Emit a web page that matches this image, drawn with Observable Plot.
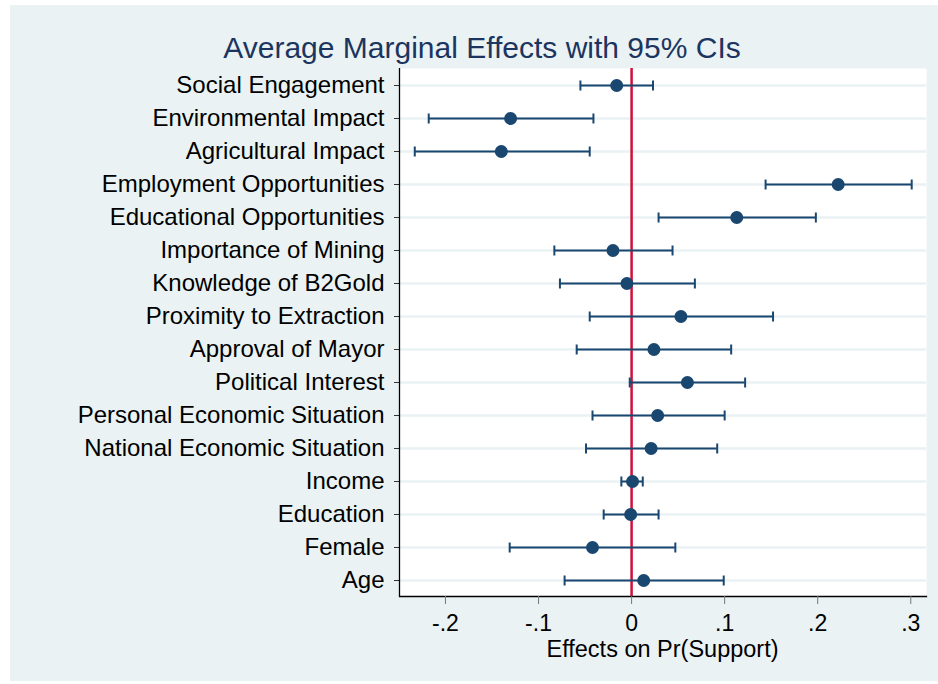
<!DOCTYPE html>
<html><head><meta charset="utf-8">
<script src="https://cdn.jsdelivr.net/npm/d3@7"></script>
<script src="https://cdn.jsdelivr.net/npm/@observablehq/plot@0.6"></script>
<style>
html,body{margin:0;padding:0;background:#fff;}
#wrap{position:relative;width:938px;height:684px;overflow:hidden;}
#bg{position:absolute;left:10px;top:5px;width:928px;height:676px;background:#eaf2f3;}
#chart{position:absolute;left:0;top:0;}
.txt{position:absolute;font-family:'Liberation Sans',Arial,sans-serif;white-space:nowrap;text-align:center;}
#title{left:82px;width:800px;top:33px;font-size:30px;line-height:30px;color:#1c3560;}
#xlab{left:399px;width:527px;top:637.8px;font-size:23.5px;line-height:23px;color:#000;}
</style></head><body>
<div id="wrap"><div id="bg"></div><div id="chart"></div>
<div id="title" class="txt"></div><div id="xlab" class="txt"></div></div>
<script>
const categories = ["Social Engagement","Environmental Impact","Agricultural Impact","Employment Opportunities","Educational Opportunities","Importance of Mining","Knowledge of B2Gold","Proximity to Extraction","Approval of Mayor","Political Interest","Personal Economic Situation","National Economic Situation","Income","Education","Female","Age"];
const estimates = [-0.016,-0.130,-0.140,0.222,0.113,-0.020,-0.005,0.053,0.024,0.060,0.028,0.021,0.001,-0.001,-0.042,0.013];
const lower = [-0.055,-0.218,-0.233,0.144,0.029,-0.083,-0.077,-0.045,-0.059,-0.002,-0.042,-0.049,-0.011,-0.030,-0.131,-0.072];
const upper = [0.023,-0.041,-0.045,0.301,0.198,0.044,0.068,0.152,0.107,0.122,0.100,0.092,0.012,0.029,0.047,0.099];
const xTicks = [-0.2,-0.1,0,0.1,0.2,0.3];
const xTickLabels = ["-.2","-.1","0",".1",".2",".3"];
const xDomain = [-0.2494,0.3169];
const titleText = "Average Marginal Effects with 95% CIs";
const xLabelText = "Effects on Pr(Support)";

const data = categories.map((c,i)=>({term:c, est:estimates[i], lo:lower[i], hi:upper[i]}));
const navy = "#1a476f";
const red = "#d0103a";
const font = "'Liberation Sans', Arial, sans-serif";
const capSymbol = {draw(context) { context.moveTo(0, -5); context.lineTo(0, 5); }};

const chart = Plot.plot({
  width: 938, height: 684,
  marginLeft: 399, marginRight: 12, marginTop: 68, marginBottom: 88,
  style: {background: "transparent", fontFamily: font, fontSize: "24px", color: "#000", overflow: "visible"},
  x: {domain: xDomain},
  y: {type: "point", domain: categories, padding: 0.46},
  marks: [
    Plot.frame({fill: "white", stroke: "none"}),
    Plot.ruleY(data, {y: "term", stroke: "#eaf2f3", strokeWidth: 2.5}),
    Plot.ruleX([0], {stroke: red, strokeWidth: 2.5}),
    Plot.ruleY(data, {y: "term", x1: "lo", x2: "hi", stroke: navy, strokeWidth: 2}),
    Plot.dot(data, {x: "lo", y: "term", symbol: capSymbol, fill: "none", stroke: navy, strokeWidth: 2}),
    Plot.dot(data, {x: "hi", y: "term", symbol: capSymbol, fill: "none", stroke: navy, strokeWidth: 2}),
    Plot.dot(data, {x: "est", y: "term", r: 6.5, fill: navy, stroke: "none"}),
    Plot.ruleX([xDomain[0]], {stroke: "#000", strokeWidth: 1.3}),
    Plot.frame({anchor: "bottom", stroke: "#000", strokeWidth: 1.3}),
    Plot.axisY({tickSize: 5, tickPadding: 10, stroke: "#333", fill: "#000", fontSize: 24, label: null}),
    Plot.axisX({ticks: xTicks, tickSize: 8, tickPadding: 10, stroke: "#777", fill: "#000", fontSize: 23, label: null,
      tickFormat: (d) => { const k = xTicks.findIndex(t => Math.abs(t - d) < 1e-9); return k >= 0 ? xTickLabels[k] : ""; }})
  ]
});
document.getElementById("chart").appendChild(chart);
document.getElementById("title").textContent = titleText;
document.getElementById("xlab").textContent = xLabelText;
</script>
</body></html>
